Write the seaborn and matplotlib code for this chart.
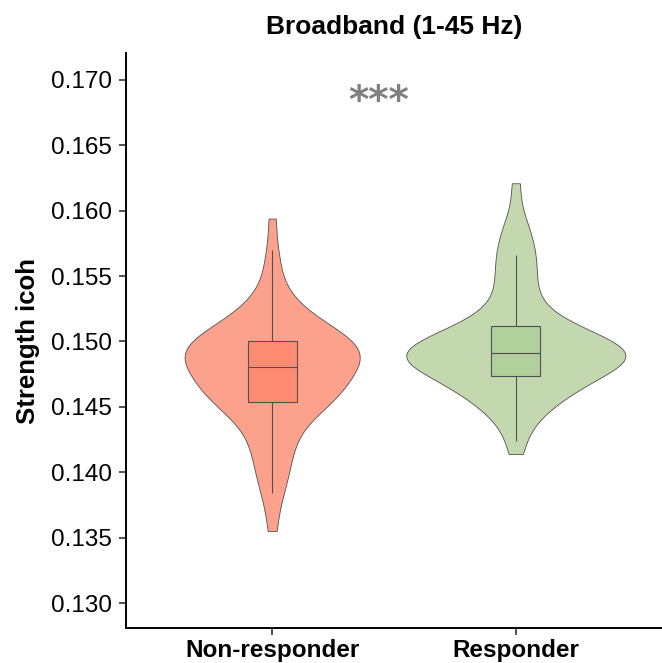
import numpy as np
import pandas as pd
import matplotlib
matplotlib.use("Agg")
import matplotlib.pyplot as plt
import seaborn as sns

# ---------------- data ----------------
groups = ["Non-responder", "Responder"]

non_responder = [
    0.1355, 0.1373, 0.1384, 0.1391, 0.1397, 0.1403, 0.1408, 0.1413, 0.1418, 0.1422,
    0.1426, 0.1430, 0.1434, 0.1437, 0.1440, 0.1443, 0.1445, 0.1447, 0.1449, 0.1451,
    0.1452,
    0.1454, 0.1455, 0.1457, 0.1458, 0.1459, 0.1461, 0.1462, 0.1463, 0.1465, 0.1466,
    0.1467, 0.1469, 0.1470, 0.1471, 0.1472, 0.1474, 0.1475, 0.1476, 0.1477, 0.1478,
    0.1480,
    0.1481, 0.1482, 0.1483, 0.1484, 0.1485, 0.1486, 0.1487, 0.1488, 0.1489, 0.1490,
    0.1491, 0.1492, 0.1493, 0.1494, 0.1495, 0.1496, 0.1497, 0.1498, 0.1499, 0.1499,
    0.1500,
    0.1502, 0.1503, 0.1505, 0.1506, 0.1507, 0.1508, 0.1509, 0.1511, 0.1513, 0.1515,
    0.1517, 0.1519, 0.1522, 0.1525, 0.1528, 0.1533, 0.1538, 0.1546, 0.1558, 0.1570,
    0.1594,
]

responder = [
    0.1414, 0.1424, 0.1434, 0.1440, 0.1444, 0.1447, 0.1450, 0.1453, 0.1455, 0.1458,
    0.1460, 0.1461, 0.1463, 0.1464, 0.1466, 0.1467, 0.1469, 0.1470, 0.1471, 0.1472,
    0.1473, 0.1474, 0.1476, 0.1478, 0.1479, 0.1480, 0.1481, 0.1482, 0.1483, 0.1484,
    0.1484, 0.1485, 0.1485, 0.1486, 0.1486, 0.1487, 0.1488, 0.1488, 0.1489, 0.1490,
    0.1491,
    0.1492, 0.1492, 0.1493, 0.1494, 0.1494, 0.1495, 0.1496, 0.1497, 0.1498, 0.1499,
    0.1500, 0.1501, 0.1502, 0.1503, 0.1504, 0.1505, 0.1506, 0.1507, 0.1509, 0.1510,
    0.1512,
    0.1514, 0.1516, 0.1518, 0.1521, 0.1525, 0.1528, 0.1533, 0.1538, 0.1542, 0.1547,
    0.1552, 0.1557, 0.1561, 0.1566, 0.1571, 0.1576, 0.1582, 0.1588, 0.1599, 0.1621,
]

violin_colors = ["#FCA28C", "#C3D8AF"]
box_colors = ["#FE8C72", "#B1D09B"]

title = "Broadband (1-45 Hz)"
ylabel = "Strength icoh"
yticks = [0.130, 0.135, 0.140, 0.145, 0.150, 0.155, 0.160, 0.165, 0.170]
signif_label = "***"

# ---------------- table ----------------
df = pd.DataFrame({
    "group": [groups[0]] * len(non_responder) + [groups[1]] * len(responder),
    "value": non_responder + responder,
})

sns.set_theme(style="ticks")
plt.rcParams["font.family"] = ["Liberation Sans", "DejaVu Sans"]
plt.rcParams["text.color"] = "black"
plt.rcParams["axes.labelcolor"] = "black"

fig = plt.figure(figsize=(6.62, 6.63), dpi=100)
ax = fig.add_axes([126 / 662, 35 / 663, 536 / 662, 575 / 663])

sns.violinplot(
    data=df, x="group", y="value", order=groups, hue="group", hue_order=groups,
    palette=dict(zip(groups, violin_colors)), saturation=1, cut=0, inner=None,
    width=0.9, linewidth=0.6, linecolor="#505050", bw_adjust=0.75,
    density_norm="area", common_norm=True, legend=False, ax=ax,
)
sns.boxplot(
    data=df, x="group", y="value", order=groups, hue="group", hue_order=groups,
    palette=dict(zip(groups, box_colors)), saturation=1, width=0.2,
    showfliers=False, showcaps=False, whis=1.5, linewidth=0.8,
    linecolor="#505050", legend=False, ax=ax,
)

ax.set_xlim(-0.6, 1.6)
ax.set_ylim(0.12809, 0.17206)
ax.set_yticks(yticks)
ax.set_yticklabels([f"{t:.3f}" for t in yticks])

sns.despine(ax=ax)
for side in ["left", "bottom"]:
    ax.spines[side].set_linewidth(1.4)
    ax.spines[side].set_color("black")

ax.tick_params(axis="both", length=5, width=1.2, color="#333333",
               labelsize=17.5, labelcolor="black")
ax.tick_params(axis="y", pad=5)
ax.tick_params(axis="x", pad=3)
for lab in ax.get_xticklabels():
    lab.set_fontweight("bold")

ax.set_xlabel("")
ax.set_ylabel(ylabel, fontsize=18.5, fontweight="bold", color="black")
ax.yaxis.label.set_va("center")
ax.yaxis.set_label_coords(-0.183, 0.5)

ax.set_title(title, fontsize=19, fontweight="bold", pad=14, color="black")

ax.text(0.436, 0.16835, signif_label, ha="center", va="center",
        color="#808080", fontsize=28, fontweight="bold", family="DejaVu Sans")

fig.savefig("out.png", dpi=100)
